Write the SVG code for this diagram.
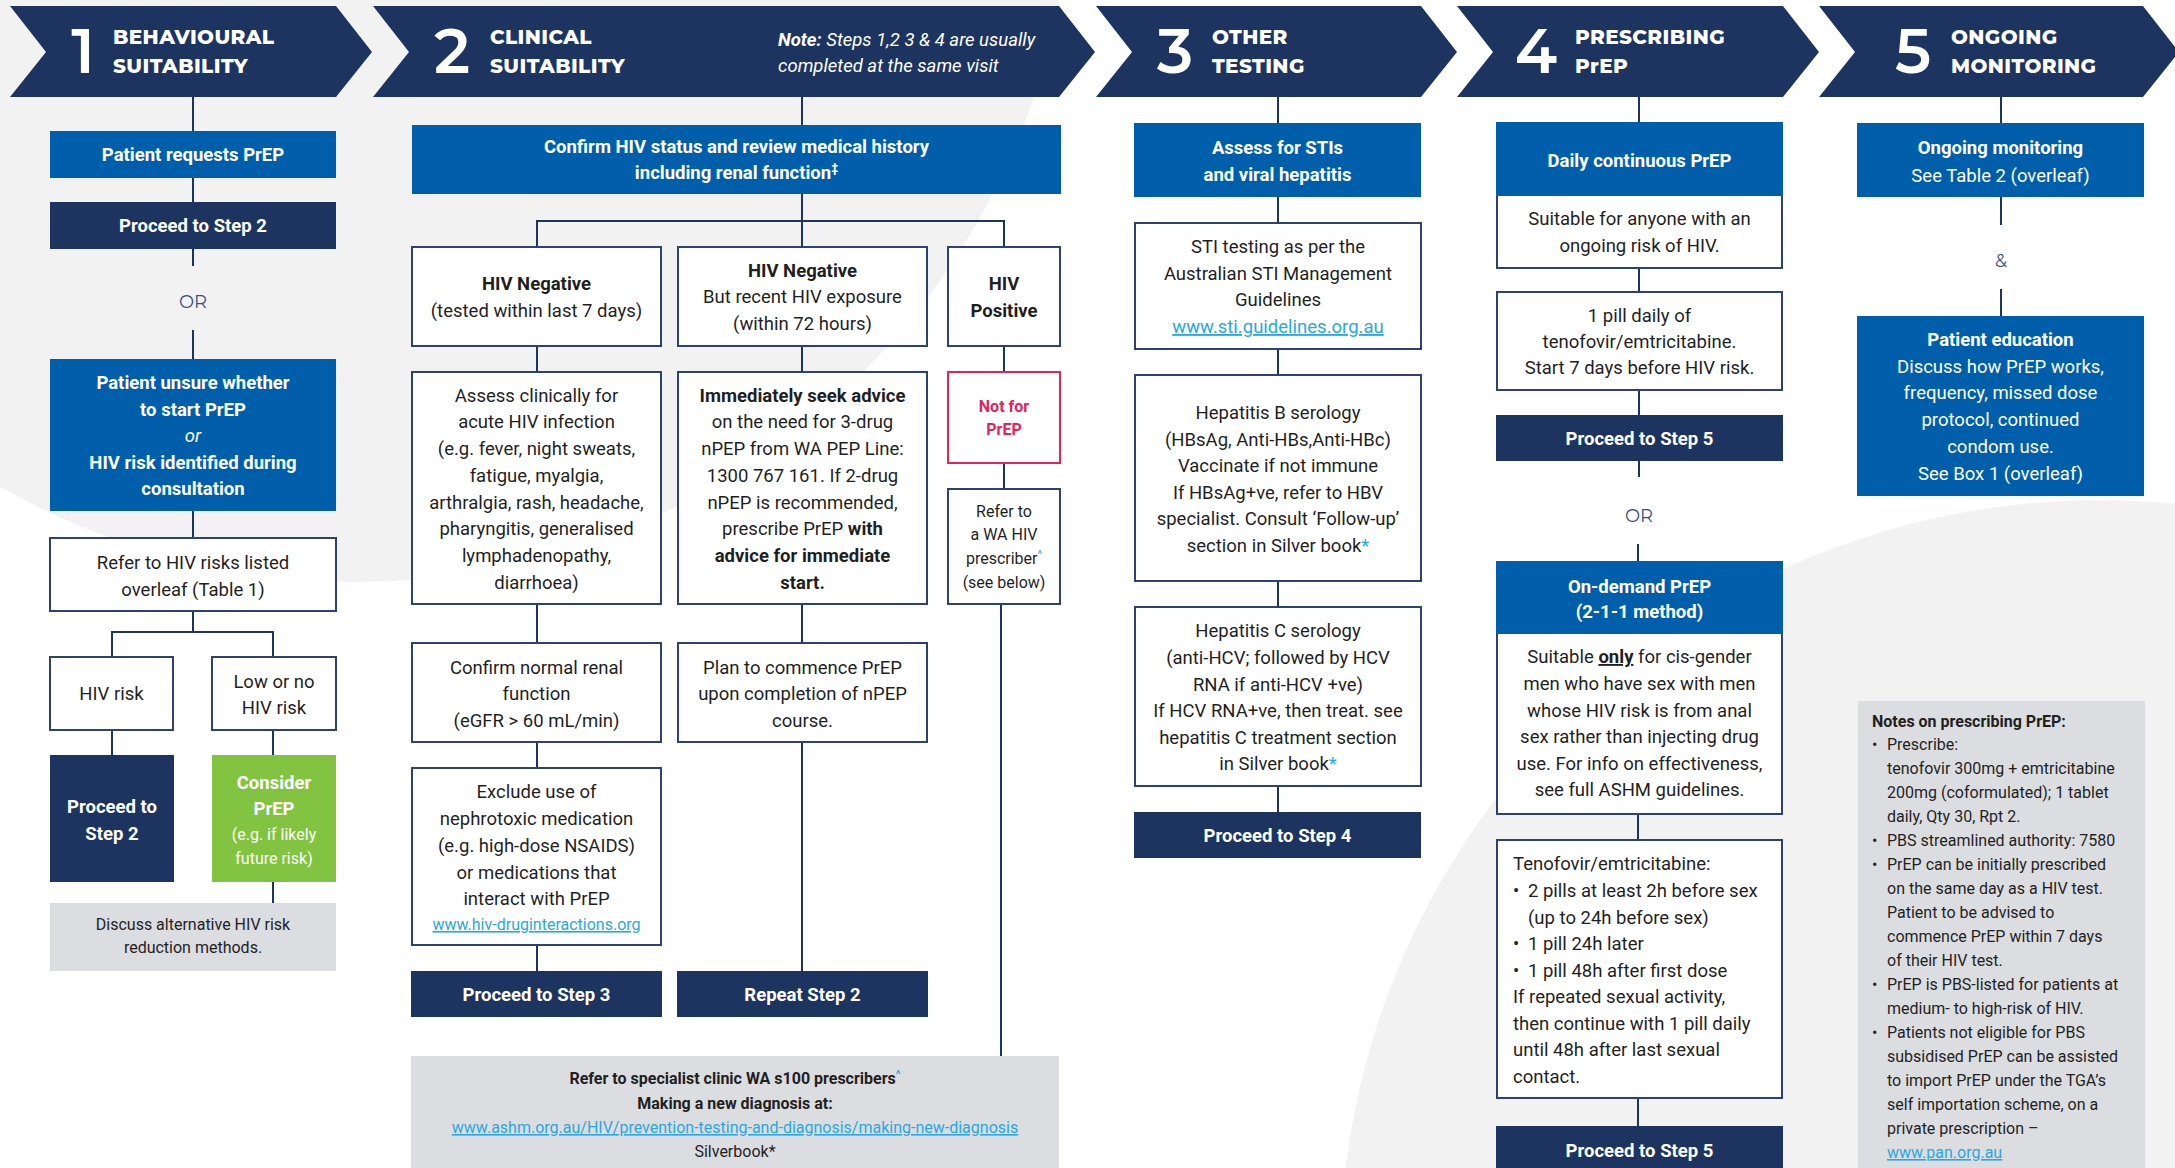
<svg xmlns="http://www.w3.org/2000/svg" width="2175" height="1168" viewBox="0 0 2175 1168">
<style>
.nv{fill:#1d3461}
.bl{fill:#005eab}
.wb{fill:#fff;stroke:#2e4272;stroke-width:2}
.gy{fill:#dcdde0}
.gn{fill:#82c341}
.pk{fill:#fff;stroke:#e0245e;stroke-width:2}
.ln{stroke:#1d3461;stroke-width:2;fill:none}
text{font-family:Roboto,"Liberation Sans",Arial,sans-serif;font-size:18.5px;fill:#1f1f1f;text-anchor:middle}
.w{fill:#fff}
.b{font-weight:700}
.i{font-style:italic}
.s{font-size:16px}
.xs{font-size:16px}
.n{font-size:16px;text-anchor:start}
.l{text-anchor:start}
.lk{fill:#29a8e0;text-decoration:underline}
.sup{fill:#29a8e0}
.pkt{fill:#e0245e;font-weight:700;font-size:16px}
.hd{font-family:"Montserrat","Open Sans",sans-serif;font-weight:800;font-size:20px;fill:#fff;text-anchor:start;letter-spacing:0.4px}
.num{font-family:"Montserrat","Open Sans",sans-serif;font-weight:600;font-size:62px;fill:#fff}
.or{font-family:"Montserrat","Open Sans",sans-serif;font-size:18px;fill:#3b4e7a}
</style>
<rect width="2175" height="1168" fill="#fff"/>
<circle cx="357" cy="-133" r="715" fill="#f2f2f2"/>
<circle cx="2100" cy="1260" r="760" fill="#f2f2f2"/>

<g id="headers">
<path class="nv" d="M10,6 H336 L372,52 L336,97 H10 L46,52 Z"/>
<path class="nv" d="M373,6 H1059 L1095,52 L1059,97 H373 L409,52 Z"/>
<path class="nv" d="M1096,6 H1421 L1457,52 L1421,97 H1096 L1132,52 Z"/>
<path class="nv" d="M1457,6 H1783 L1819,52 L1783,97 H1457 L1493,52 Z"/>
<path class="nv" d="M1819,6 H2143 L2179,52 L2143,97 H1819 L1855,52 Z"/>
<text class="num" x="83" y="73">1</text>
<text class="hd" x="113" y="44">BEHAVIOURAL</text><text class="hd" x="113" y="73">SUITABILITY</text>
<text class="num" x="452" y="73">2</text>
<text class="hd" x="490" y="44">CLINICAL</text><text class="hd" x="490" y="73">SUITABILITY</text>
<text class="w i l" x="778" y="46"><tspan class="b">Note:</tspan> Steps 1,2 3 &amp; 4 are usually</text>
<text class="w i l" x="778" y="72">completed at the same visit</text>
<text class="num" x="1175" y="73">3</text>
<text class="hd" x="1212" y="44">OTHER</text><text class="hd" x="1212" y="73">TESTING</text>
<text class="num" x="1536" y="73">4</text>
<text class="hd" x="1575" y="44">PRESCRIBING</text><text class="hd" x="1575" y="73">PrEP</text>
<text class="num" x="1913" y="73">5</text>
<text class="hd" x="1951" y="44">ONGOING</text><text class="hd" x="1951" y="73">MONITORING</text>
</g>

<g id="connectors">
<path class="ln" d="M193,97V131 M193,178V202 M193,249V266 M193,330V359 M193,511V538 M193,611V632 M112,657V632H273V657 M112,730V755 M273,730V755 M273,882V903"/>
<path class="ln" d="M802,97V125 M802,194V247 M537,247V221H1004V247 M537,346V372 M802,346V372 M1004,346V372 M1004,463V489 M537,604V643 M802,604V643 M1001,604V1056 M537,742V768 M537,945V971 M802,742V971"/>
<path class="ln" d="M1278,97V123 M1278,197V223 M1278,349V375 M1278,581V607 M1278,786V812"/>
<path class="ln" d="M1639,97V123 M1639,268V292 M1639,390V415 M1639,461V477 M1638,544V562 M1638,814V840 M1638,1098V1126"/>
<path class="ln" d="M2001,97V123 M2001,197V225 M2001,289V316"/>
</g>

<g id="n1a"><rect class="bl" x="50" y="131" width="286" height="47"/><text class="w b" x="193" y="161">Patient requests PrEP</text></g>
<g id="n1b"><rect class="nv" x="50" y="202" width="286" height="47"/><text class="w b" x="193" y="232">Proceed to Step 2</text></g>
<g id="or1"><text class="or" x="193" y="308">OR</text></g>
<g id="n1c"><rect class="bl" x="50" y="359" width="286" height="152"/>
<text class="w b" x="193" y="389">Patient unsure whether</text>
<text class="w b" x="193" y="415.5">to start PrEP</text>
<text class="w i" x="193" y="442">or</text>
<text class="w b" x="193" y="468.5">HIV risk identified during</text>
<text class="w b" x="193" y="495">consultation</text></g>
<g id="n1d"><rect class="wb" x="50" y="538" width="286" height="73"/><text x="193" y="569">Refer to HIV risks listed</text><text x="193" y="596">overleaf (Table 1)</text></g>
<g id="n1e"><rect class="wb" x="50" y="657" width="123" height="73"/><text x="111.5" y="700">HIV risk</text></g>
<g id="n1f"><rect class="wb" x="212" y="657" width="124" height="73"/><text x="274" y="688">Low or no</text><text x="274" y="714">HIV risk</text></g>
<g id="n1g"><rect class="nv" x="50" y="755" width="124" height="127"/><text class="w b" x="112" y="813">Proceed to</text><text class="w b" x="112" y="840">Step 2</text></g>
<g id="n1h"><rect class="gn" x="212" y="755" width="124" height="127"/><text class="w b" x="274" y="789">Consider</text><text class="w b" x="274" y="815">PrEP</text><text class="w xs" x="274" y="840">(e.g. if likely</text><text class="w xs" x="274" y="864">future risk)</text></g>
<g id="n1i"><rect class="gy" x="50" y="903" width="286" height="68"/><text class="s" x="193" y="930">Discuss alternative HIV risk</text><text class="s" x="193" y="953">reduction methods.</text></g>

<g id="n2a"><rect class="bl" x="412" y="125" width="649" height="69"/><text class="w b" x="736.5" y="153">Confirm HIV status and review medical history</text><text class="w b" x="736.5" y="179">including renal function<tspan font-size="12" dy="-7">‡</tspan></text></g>
<g id="n2b"><rect class="wb" x="412" y="247" width="249" height="99"/><text class="b" x="536.5" y="290">HIV Negative</text><text x="536.5" y="317">(tested within last 7 days)</text></g>
<g id="n2c"><rect class="wb" x="678" y="247" width="249" height="99"/><text class="b" x="802.5" y="277">HIV Negative</text><text x="802.5" y="303">But recent HIV exposure</text><text x="802.5" y="330">(within 72 hours)</text></g>
<g id="n2d"><rect class="wb" x="948" y="247" width="112" height="99"/><text class="b" x="1004" y="290">HIV</text><text class="b" x="1004" y="317">Positive</text></g>
<g id="n2e"><rect class="wb" x="412" y="372" width="249" height="232"/>
<text x="536.5" y="401.7">Assess clinically for</text>
<text x="536.5" y="428.4">acute HIV infection</text>
<text x="536.5" y="455">(e.g. fever, night sweats,</text>
<text x="536.5" y="481.8">fatigue, myalgia,</text>
<text x="536.5" y="508.5">arthralgia, rash, headache,</text>
<text x="536.5" y="535.2">pharyngitis, generalised</text>
<text x="536.5" y="561.9">lymphadenopathy,</text>
<text x="536.5" y="588.6">diarrhoea)</text></g>
<g id="n2f"><rect class="wb" x="678" y="372" width="249" height="232"/>
<text class="b" x="802.5" y="401.7">Immediately seek advice</text>
<text x="802.5" y="428.4">on the need for 3-drug</text>
<text x="802.5" y="455">nPEP from WA PEP Line:</text>
<text x="802.5" y="481.8">1300 767 161. If 2-drug</text>
<text x="802.5" y="508.5">nPEP is recommended,</text>
<text x="802.5" y="535.2">prescribe PrEP <tspan class="b">with</tspan></text>
<text class="b" x="802.5" y="561.9">advice for immediate</text>
<text class="b" x="802.5" y="588.6">start.</text></g>
<g id="n2g"><rect class="pk" x="948" y="372" width="112" height="91"/><text class="pkt" x="1004" y="412">Not for</text><text class="pkt" x="1004" y="435">PrEP</text></g>
<g id="n2h"><rect class="wb" x="948" y="489" width="112" height="115"/><text class="s" x="1004" y="517">Refer to</text><text class="s" x="1004" y="540">a WA HIV</text><text class="s" x="1004" y="564">prescriber<tspan class="sup" font-size="11" dy="-6">^</tspan></text><text class="s" x="1004" y="588">(see below)</text></g>
<g id="n2i"><rect class="wb" x="412" y="643" width="249" height="99"/><text x="536.5" y="674">Confirm normal renal</text><text x="536.5" y="700">function</text><text x="536.5" y="727">(eGFR &gt; 60 mL/min)</text></g>
<g id="n2j"><rect class="wb" x="678" y="643" width="249" height="99"/><text x="802.5" y="674">Plan to commence PrEP</text><text x="802.5" y="700">upon completion of nPEP</text><text x="802.5" y="727">course.</text></g>
<g id="n2k"><rect class="wb" x="412" y="768" width="249" height="177"/>
<text x="536.5" y="798">Exclude use of</text>
<text x="536.5" y="825">nephrotoxic medication</text>
<text x="536.5" y="852">(e.g. high-dose NSAIDS)</text>
<text x="536.5" y="879">or medications that</text>
<text x="536.5" y="905">interact with PrEP</text>
<text class="s lk" x="536.5" y="930">www.hiv-druginteractions.org</text></g>
<g id="n2l"><rect class="nv" x="411" y="971" width="251" height="46"/><text class="w b" x="536.5" y="1001">Proceed to Step 3</text></g>
<g id="n2m"><rect class="nv" x="677" y="971" width="251" height="46"/><text class="w b" x="802.5" y="1001">Repeat Step 2</text></g>
<g id="n2n"><rect class="gy" x="411" y="1056" width="648" height="120"/>
<text class="s b" x="735" y="1084">Refer to specialist clinic WA s100 prescribers<tspan class="sup" font-size="11" dy="-6">^</tspan></text>
<text class="s b" x="735" y="1109">Making a new diagnosis at:</text>
<text class="s lk" x="735" y="1133">www.ashm.org.au/HIV/prevention-testing-and-diagnosis/making-new-diagnosis</text>
<text class="s" x="735" y="1157">Silverbook*</text></g>

<g id="n3a"><rect class="bl" x="1134" y="123" width="287" height="74"/><text class="w b" x="1277.5" y="154">Assess for STIs</text><text class="w b" x="1277.5" y="181">and viral hepatitis</text></g>
<g id="n3b"><rect class="wb" x="1135" y="223" width="286" height="126"/><text x="1278" y="253">STI testing as per the</text><text x="1278" y="280">Australian STI Management</text><text x="1278" y="306">Guidelines</text><text class="lk" x="1278" y="333">www.sti.guidelines.org.au</text></g>
<g id="n3c"><rect class="wb" x="1135" y="375" width="286" height="206"/>
<text x="1278" y="419">Hepatitis B serology</text>
<text x="1278" y="445.5">(HBsAg, Anti-HBs,Anti-HBc)</text>
<text x="1278" y="472">Vaccinate if not immune</text>
<text x="1278" y="498.5">If HBsAg+ve, refer to HBV</text>
<text x="1278" y="525">specialist. Consult ‘Follow-up’</text>
<text x="1278" y="552">section  in Silver book<tspan class="sup">*</tspan></text></g>
<g id="n3d"><rect class="wb" x="1135" y="607" width="286" height="179"/>
<text x="1278" y="637">Hepatitis C serology</text>
<text x="1278" y="664">(anti-HCV; followed by HCV</text>
<text x="1278" y="690.5">RNA if anti-HCV +ve)</text>
<text x="1278" y="717">If HCV RNA+ve, then treat. see</text>
<text x="1278" y="743.6">hepatitis C treatment section</text>
<text x="1278" y="770">in Silver book<tspan class="sup">*</tspan></text></g>
<g id="n3e"><rect class="nv" x="1134" y="812" width="287" height="46"/><text class="w b" x="1277.5" y="842">Proceed to Step 4</text></g>

<g id="n4a"><rect class="wb" x="1497" y="123" width="285" height="145"/><rect class="bl" x="1496" y="122" width="287" height="74"/><text class="w b" x="1639.5" y="167">Daily continuous PrEP</text><text x="1639.5" y="225">Suitable for anyone with an</text><text x="1639.5" y="252">ongoing risk of HIV.</text></g>
<g id="n4b"><rect class="wb" x="1497" y="292" width="285" height="98"/><text x="1639.5" y="322">1 pill daily of</text><text x="1639.5" y="348">tenofovir/emtricitabine.</text><text x="1639.5" y="374">Start 7 days before HIV risk.</text></g>
<g id="n4c"><rect class="nv" x="1496" y="415" width="287" height="46"/><text class="w b" x="1639.5" y="445">Proceed to Step 5</text></g>
<g id="or4"><text class="or" x="1639" y="522">OR</text></g>
<g id="n4d"><rect class="wb" x="1497" y="562" width="285" height="252"/><rect class="bl" x="1496" y="561" width="287" height="73"/>
<text class="w b" x="1639.5" y="593">On-demand PrEP</text><text class="w b" x="1639.5" y="618">(2-1-1 method)</text>
<text x="1639.5" y="663">Suitable <tspan class="b" text-decoration="underline">only</tspan> for cis-gender</text>
<text x="1639.5" y="690">men who have sex with men</text>
<text x="1639.5" y="717">whose HIV risk is from anal</text>
<text x="1639.5" y="743">sex rather than injecting drug</text>
<text x="1639.5" y="770">use. For info on effectiveness,</text>
<text x="1639.5" y="796">see full ASHM guidelines.</text></g>
<g id="n4e"><rect class="wb" x="1497" y="840" width="285" height="258"/>
<text class="l" x="1513" y="870">Tenofovir/emtricitabine:</text>
<text class="l" x="1513" y="897">•</text><text class="l" x="1528" y="897">2 pills at least 2h before sex</text>
<text class="l" x="1528" y="923.5">(up to 24h before sex)</text>
<text class="l" x="1513" y="950">•</text><text class="l" x="1528" y="950">1 pill 24h later</text>
<text class="l" x="1513" y="977">•</text><text class="l" x="1528" y="977">1 pill 48h after first dose</text>
<text class="l" x="1513" y="1003">If repeated sexual activity,</text>
<text class="l" x="1513" y="1030">then continue with 1 pill daily</text>
<text class="l" x="1513" y="1056">until 48h after last sexual</text>
<text class="l" x="1513" y="1083">contact.</text></g>
<g id="n4f"><rect class="nv" x="1496" y="1126" width="287" height="50"/><text class="w b" x="1639.5" y="1157">Proceed to Step 5</text></g>

<g id="n5a"><rect class="bl" x="1857" y="123" width="287" height="74"/><text class="w b" x="2000.5" y="154">Ongoing monitoring</text><text class="w" x="2000.5" y="182">See Table 2 (overleaf)</text></g>
<g id="amp"><text class="or" x="2001" y="267">&amp;</text></g>
<g id="n5b"><rect class="bl" x="1857" y="316" width="287" height="180"/>
<text class="w b" x="2000.5" y="346">Patient education</text>
<text class="w" x="2000.5" y="373">Discuss how PrEP works,</text>
<text class="w" x="2000.5" y="399">frequency, missed dose</text>
<text class="w" x="2000.5" y="426">protocol, continued</text>
<text class="w" x="2000.5" y="453">condom use.</text>
<text class="w" x="2000.5" y="480">See Box 1 (overleaf)</text></g>
<g id="notes"><rect class="gy" x="1858" y="701" width="287" height="480"/>
<text class="n b" x="1872" y="727">Notes on prescribing PrEP:</text>
<text class="n" x="1872" y="750">•</text><text class="n" x="1887" y="750">Prescribe:</text>
<text class="n" x="1887" y="774">tenofovir 300mg + emtricitabine</text>
<text class="n" x="1887" y="798">200mg (coformulated); 1 tablet</text>
<text class="n" x="1887" y="822">daily, Qty 30, Rpt 2.</text>
<text class="n" x="1872" y="846">•</text><text class="n" x="1887" y="846">PBS streamlined authority: 7580</text>
<text class="n" x="1872" y="870">•</text><text class="n" x="1887" y="870">PrEP can be initially prescribed</text>
<text class="n" x="1887" y="894">on the same day as a HIV test.</text>
<text class="n" x="1887" y="918">Patient to be advised to</text>
<text class="n" x="1887" y="942">commence PrEP within 7 days</text>
<text class="n" x="1887" y="966">of their HIV test.</text>
<text class="n" x="1872" y="990">•</text><text class="n" x="1887" y="990">PrEP is PBS-listed for patients at</text>
<text class="n" x="1887" y="1014">medium- to high-risk of HIV.</text>
<text class="n" x="1872" y="1038">•</text><text class="n" x="1887" y="1038">Patients not eligible for PBS</text>
<text class="n" x="1887" y="1062">subsidised PrEP can be assisted</text>
<text class="n" x="1887" y="1086">to import PrEP under the TGA’s</text>
<text class="n" x="1887" y="1110">self importation scheme, on a</text>
<text class="n" x="1887" y="1134">private prescription –</text>
<text class="n lk" x="1887" y="1158">www.pan.org.au</text></g>
</svg>
